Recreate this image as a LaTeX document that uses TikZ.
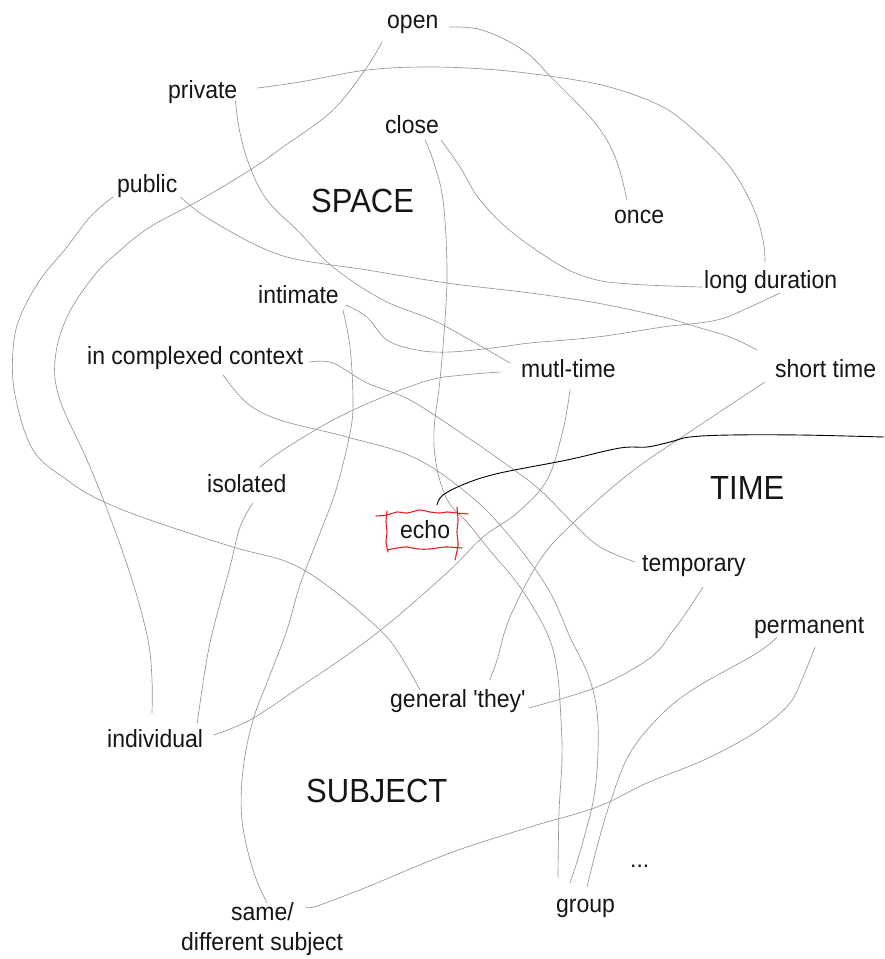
\documentclass[tikz,border=0pt]{standalone}
\usepackage{fontspec}
\setmainfont{Liberation Sans}
\definecolor{pencilgray}{RGB}{150,150,150}
\definecolor{redpen}{RGB}{228,32,36}
\definecolor{inktext}{RGB}{22,22,22}
\newcommand{\tallt}[1]{\scalebox{1}[1.08]{#1}}
\begin{document}
\begin{tikzpicture}[x=1pt,y=-1pt,
  lab/.style={inner sep=0pt, anchor=base west, font=\fontsize{23}{27}\selectfont, text=inktext},
  big/.style={inner sep=0pt, anchor=base west, font=\fontsize{31}{36}\selectfont, text=inktext},
  pencil/.style={draw=pencilgray, line width=0.65pt, line cap=round, line join=round},
  ink/.style={draw=black, line width=0.9pt, line cap=round},
  redline/.style={draw=redpen, line width=1.1pt, line cap=round, line join=round}]
\useasboundingbox[fill=white] (0,0) rectangle (884,959);

% labels
\node[lab] (open) at (387,28) {\tallt{open}};
\node[lab] (private) at (168,98) {\tallt{private}};
\node[lab] (close) at (385,133) {\tallt{close}};
\node[lab] (public) at (117,192) {\tallt{public}};
\node[big] (space) at (311,212) {\tallt{SPACE}};
\node[lab] (once) at (614,223) {\tallt{once}};
\node[lab] (long) at (704,288) {\tallt{long duration}};
\node[lab] (intimate) at (258,303) {\tallt{intimate}};
\node[lab] (complex) at (87,364) {\tallt{in complexed context}};
\node[lab] (multi) at (521,377) {\tallt{mutl-time}};
\node[lab] (short) at (775,377) {\tallt{short time}};
\node[lab] (isolated) at (207,492) {\tallt{isolated}};
\node[big] (time) at (710,499) {\tallt{TIME}};
\node[lab] (echo) at (400,538) {\tallt{echo}};
\node[lab] (temporary) at (642,571) {\tallt{temporary}};
\node[lab] (permanent) at (754,633) {\tallt{permanent}};
\node[lab] (they) at (390,707) {\tallt{general \textquotesingle they\textquotesingle}};
\node[lab] (individual) at (107,747) {\tallt{individual}};
\node[big] (subject) at (306,802) {\tallt{SUBJECT}};
\node[lab] (dots) at (630,867) {...};
\node[lab] (group) at (556,912) {\tallt{group}};
\node[lab] (same) at (231,920) {\tallt{same/}};
\node[lab] (diff) at (181,950) {\tallt{different subject}};
\coordinate (edge) at (884,437);

% pencil connectors
\draw[pencil] plot[smooth, tension=0.6] coordinates {([shift={(11,-1)}]open.base east) (482,30) (523,50) (552,78) (590,117) (608,142) (619,168) ([shift={(13,-23)}]once.base west)};
\draw[pencil] plot[smooth, tension=0.6] coordinates {([shift={(20,-10)}]private.base east) (300,82) (367,70) (430,67) (497,70) (563,78) (613,88) (663,107) (697,133) (730,167) (753,207) (763,240) ([shift={(61,-26)}]long.base west)};
\draw[pencil] plot[smooth, tension=0.6] coordinates {([shift={(-5,14)}]open.base west) (367,67) (333,110) (283,147) (250,170) (200,200) (150,227) (117,253) (93,277) (67,317) (55,360) (60,400) (87,460) (110,517) (133,583) (148,640) (152,680) ([shift={(45,-34)}]individual.base west)};
\draw[pencil] plot[smooth, tension=0.6] coordinates {([shift={(46,11)}]isolated.base west) (240,527) (230,567) (213,630) (205,670) ([shift={(-6,-24)}]individual.base east)};
\draw[pencil] plot[smooth, tension=0.6] coordinates {([shift={(-4,5)}]public.base west) (90,217) (67,247) (40,280) (20,317) (13,350) (15,395) (33,450) (67,480) (100,500) (150,520) (233,547) (290,563) (333,590) (380,630) (400,655) ([shift={(30,-17)}]they.base west)};
\draw[pencil] plot[smooth, tension=0.6] coordinates {([shift={(3,5)}]public.base east) (200,213) (233,233) (267,250) (300,260) (367,270) (447,283) (530,293) (597,303) (663,317) (697,327) (730,337) ([shift={(-18,-27)}]short.base west)};
\draw[pencil] plot[smooth, tension=0.6] coordinates {([shift={(-2,3)}]private.base east) (240,133) (250,167) (267,200) (300,233) (333,267) (383,300) (433,320) (470,340) ([shift={(-11,-14)}]multi.base west)};
\draw[pencil] plot[smooth, tension=0.6] coordinates {([shift={(2,7)}]close.base east) (460,167) (480,200) (513,233) (563,267) (597,280) (630,284) (670,286) ([shift={(-2,-1)}]long.base west)};
\draw[pencil] plot[smooth, tension=0.6] coordinates {([shift={(40,7)}]close.base west) (433,160) (443,200) (447,267) (445,320) (440,380) (434,430) (436,463) (443,490) (452,507) (467,522) (487,547) (520,587) (547,633) (557,670) (561,720) (562,760) (559,813) ([shift={(2,-35)}]group.base west)};
\draw[pencil] plot[smooth, tension=0.6] coordinates {([shift={(6,-2)}]complex.base east) (333,363) (367,383) (410,400) (467,437) (510,467) (540,490) (573,523) (600,547) ([shift={(-7,-9)}]temporary.base west)};
\draw[pencil] plot[smooth, tension=0.6] coordinates {([shift={(136,11)}]complex.base west) (247,403) (280,420) (347,437) (413,457) (467,493) (507,533) (547,587) (570,637) (590,680) (598,725) (595,790) (582,845) ([shift={(14,-29)}]group.base west)};
\draw[pencil] plot[smooth, tension=0.6] coordinates {([shift={(7,2)}]intimate.base east) (367,317) (387,340) (417,350) (450,352) (500,347) (530,343) (597,337) (663,327) (717,320) (752,306) ([shift={(76,5)}]long.base west)};
\draw[pencil] plot[smooth, tension=0.6] coordinates {([shift={(4,7)}]intimate.base east) (350,347) (353,400) (350,433) (336,490) (320,533) (300,585) (287,630) (270,675) (253,720) (243,770) (242,820) (253,870) ([shift={(36,-17)}]same.base west)};
\draw[pencil] plot[smooth, tension=0.6] coordinates {([shift={(-21,-5)}]multi.base west) (463,375) (430,380) (383,397) (333,420) (283,450) ([shift={(53,-25)}]isolated.base west)};
\draw[pencil] plot[smooth, tension=0.6] coordinates {([shift={(49,13)}]multi.base west) (563,430) (547,480) (517,513) (483,537) (450,570) (393,620) (350,653) (300,687) (250,720) ([shift={(10,-12)}]individual.base east)};
\draw[pencil] plot[smooth, tension=0.6] coordinates {([shift={(-10,5)}]short.base west) (697,427) (630,473) (573,523) (540,560) (510,617) (497,660) ([shift={(-36,-27)}]they.base east)};
\draw[pencil] plot[smooth, tension=0.6] coordinates {([shift={(61,16)}]temporary.base west) (688,610) (672,632) (650,658) (597,687) ([shift={(3,1)}]they.base east)};
\draw[pencil] plot[smooth, tension=0.6] coordinates {([shift={(23,4)}]permanent.base west) (757,653) (697,687) (663,713) (630,753) (610,803) (597,847) ([shift={(31,-25)}]group.base west)};
\draw[pencil] plot[smooth, tension=0.6] coordinates {([shift={(61,14)}]permanent.base west) (803,677) (790,703) (763,727) (730,747) (697,763) (647,783) (597,807) (530,827) (450,853) (367,887) (317,906) ([shift={(12,-13)}]same.base east)};

% black ink line from echo
\draw[ink] plot[smooth, tension=0.6] coordinates {([shift={(37,-33)}]echo.base west) (443,495) (467,483) (500,473) (567,460) (620,448) (647,447) (670,442) (690,437) (730,435) (800,435) (edge)};

% red hand-drawn box around echo
\draw[redline] plot[smooth, tension=0.5] coordinates {(376,516) (387,515) (397,512) (407,513) (420,510) (430,512) (440,513) (447,512) (457,513) (468,514)};
\draw[redline] plot[smooth, tension=0.5] coordinates {(387,511) (386,522) (387,532) (386,542) (388,552)};
\draw[redline] plot[smooth, tension=0.5] coordinates {(457,507) (458,520) (457,532) (458,545) (455,560)};
\draw[redline] plot[smooth, tension=0.5] coordinates {(387,550) (397,548) (407,547) (418,549) (430,549) (445,547) (462,548)};
\end{tikzpicture}
\end{document}
